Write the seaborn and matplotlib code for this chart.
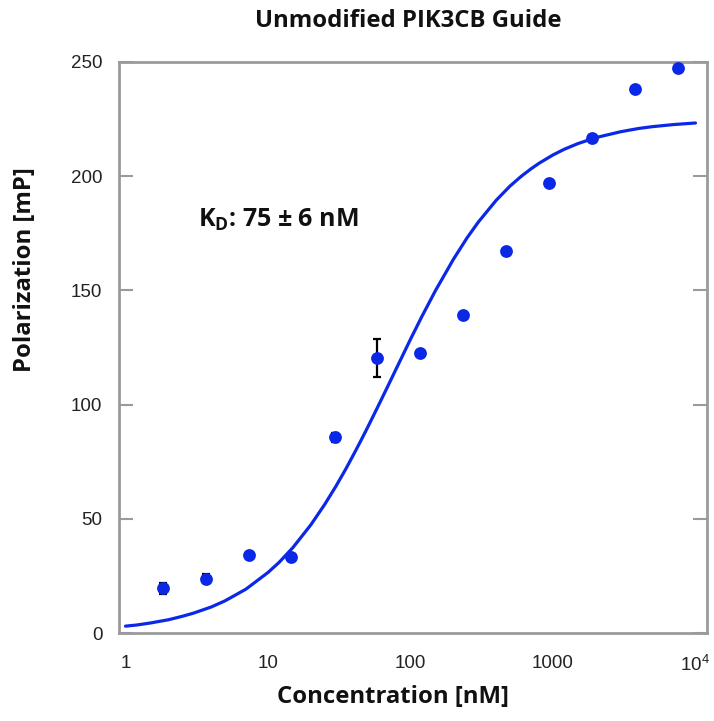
import numpy as np
import pandas as pd
import matplotlib
matplotlib.use("Agg")
import matplotlib.pyplot as plt
import seaborn as sns

# ---- data ----
concentration_nM = [1.83, 3.66, 7.32, 14.6, 29.3, 58.6, 117, 234, 469, 938, 1875, 3750, 7500]
polarization_mP = [19.5, 23.8, 34.0, 33.4, 85.6, 120.5, 122.5, 139.3, 167.3, 197.0, 216.6, 238.0, 247.2]
error_mP = [2.5, 2.0, 0.5, 0.5, 2.0, 8.2, 0.5, 0.5, 0.5, 0.5, 1.5, 0.5, 0.5]

fit_conc_nM = [1, 1.2, 1.5, 2, 2.5, 3, 4, 5, 7, 10, 12, 15, 20, 25, 30, 35, 40, 45, 50,
               60, 70, 80, 100, 120, 150, 200, 250, 300, 400, 500, 600, 700, 800, 1000,
               1200, 1500, 2000, 3000, 4000, 5000, 7000, 10000]
fit_polarization_mP = [3.0, 3.5, 4.4, 5.8, 7.3, 8.7, 11.4, 14.1, 19.2, 26.5, 31.0, 37.5,
                       47.4, 56.3, 64.3, 71.6, 78.3, 84.4, 90.0, 100.0, 108.6, 116.1,
                       128.6, 138.5, 150.0, 163.6, 173.1, 180.0, 189.5, 195.7, 200.0,
                       203.2, 205.7, 209.3, 211.8, 214.3, 216.9, 219.5, 220.9, 221.7,
                       222.6, 223.3]

x_tick_values = [1, 10, 100, 1000, 10000]
x_tick_labels = ["1", "10", "100", "1000", r"$\mathregular{10^4}$"]
y_tick_values = [0, 50, 100, 150, 200, 250]

title = "Unmodified PIK3CB Guide"
x_label = "Concentration [nM]"
y_label = "Polarization [mP]"
kd_text = r"$\mathbf{K_D}$: 75 ± 6 nM"

# ---- styling ----
sns.set_style("white")
plt.rcParams["font.family"] = ["Liberation Sans", "DejaVu Sans"]
plt.rcParams["mathtext.fontset"] = "custom"
plt.rcParams["mathtext.rm"] = "Liberation Sans"
plt.rcParams["mathtext.bf"] = "Open Sans:bold"

BLUE = "#0a28e6"
FRAME = "#9a9a9a"

fig = plt.figure(figsize=(7.14, 7.21), dpi=100)
ax = fig.add_axes([119 / 714, 1 - 633 / 721, (707 - 119) / 714, (633 - 62) / 721])

pts = pd.DataFrame({"conc": concentration_nM, "pol": polarization_mP, "err": error_mP})
fit = pd.DataFrame({"conc": fit_conc_nM, "pol": fit_polarization_mP})

ax.set_xscale("log")
sns.lineplot(data=fit, x="conc", y="pol", ax=ax, color=BLUE, linewidth=2.3, zorder=2)
ax.errorbar(pts["conc"], pts["pol"], yerr=pts["err"], fmt="none", ecolor="black",
            elinewidth=1.6, capsize=3, capthick=1.6, zorder=3)
sns.scatterplot(data=pts, x="conc", y="pol", ax=ax, color=BLUE, s=85,
                edgecolor=BLUE, linewidth=0, zorder=4)

ax.set_xlim(0.900, 12050)
ax.set_ylim(0, 250)
ax.set_xticks(x_tick_values)
ax.set_xticklabels(x_tick_labels)
ax.xaxis.set_minor_locator(matplotlib.ticker.NullLocator())
ax.set_yticks(y_tick_values)
ax.set_xlabel("")
ax.set_ylabel("")

ax.tick_params(axis="x", which="both", length=0, pad=16, labelsize=13.5, labelcolor="#222222")
ax.tick_params(axis="y", which="both", direction="in", length=10, width=1.5, color=FRAME,
               left=True, right=True, pad=12, labelsize=13.5, labelcolor="#222222")

for sp in ax.spines.values():
    sp.set_color(FRAME)
    sp.set_linewidth(2)
    sp.set_visible(True)

ax.text(0.134, 0.723, kd_text, transform=ax.transAxes, ha="left", va="center",
        fontsize=18, fontweight="bold", family="Open Sans", color="#111111")

fig.text(408 / 714, 1 - 21 / 721, title, ha="center", va="center",
         fontsize=17.2, fontweight="bold", family="Open Sans", color="#111111")
fig.text(393 / 714, 1 - 697 / 721, x_label, ha="center", va="center",
         fontsize=17.2, fontweight="bold", family="Open Sans", color="#111111")
fig.text(25 / 714, 1 - 270 / 721, y_label, ha="center", va="center", rotation=90,
         fontsize=17.2, fontweight="bold", family="Open Sans", color="#111111")

fig.savefig("out.png", dpi=100, facecolor="white")
